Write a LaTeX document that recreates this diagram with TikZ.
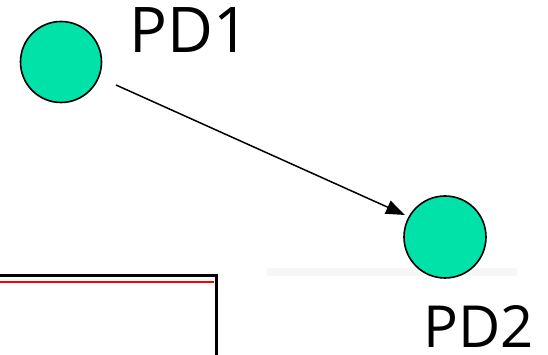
\documentclass[tikz,border=0pt]{standalone}
\usepackage{fontspec}
\setmainfont{Open Sans}
\usetikzlibrary{arrows.meta}
\definecolor{pdfill}{RGB}{0,226,168}
\definecolor{barcol}{RGB}{246,246,246}
\begin{document}
\begin{tikzpicture}[x=1pt,y=1pt,
  pdnode/.style={circle,draw=black,line width=1.6pt,fill=pdfill,minimum size=81pt,inner sep=0pt},
  lbl/.style={anchor=base west,inner sep=0pt,text depth=0pt,text=black},
  conn/.style={line width=1.5pt,-{Triangle[length=19pt,width=14pt]}}]
\useasboundingbox (0,0) rectangle (548,355);
% faint bar
\fill[barcol] (267,79) rectangle (517,87);
% circles
\node[pdnode] (pd1) at (61,293) {};
\node[pdnode,minimum size=82pt] (pd2) at (445,118) {};
% labels
\node[lbl,font=\fontsize{63}{63}\selectfont] (l1) at (129.5,302) {PD1};
\node[lbl,font=\fontsize{58}{58}\selectfont] (l2) at (423,7) {PD2};
% arrow
\coordinate (a1) at (116,270);
\coordinate (a2) at (405,140);
\draw[conn] (a1) -- (a2);
% partial rectangle
\coordinate (r0) at (0,79);
\coordinate (r1) at (216,79);
\coordinate (r2) at (216,0);
\draw[red,line width=2pt] (0,73) -- (214,73);
\draw[black,line width=3pt] (r0) -- (r1) -- (r2);
\end{tikzpicture}
\end{document}
